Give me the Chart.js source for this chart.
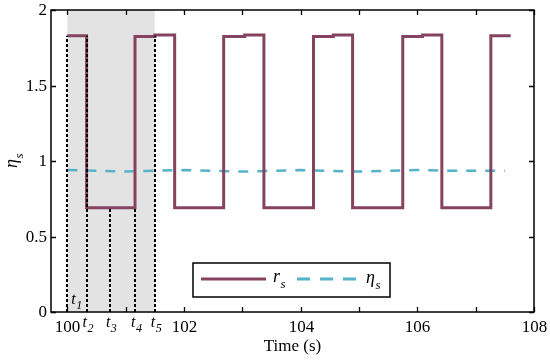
<!DOCTYPE html>
<html>
<head>
<meta charset="utf-8">
<script src="https://cdn.jsdelivr.net/npm/chart.js@4.4.1/dist/chart.umd.min.js"></script>
<style>
  html, body { margin: 0; padding: 0; background: #fff; }
  #wrap { width: 550px; height: 360px; }
</style>
</head>
<body>
<div id="wrap"><canvas id="c" width="550" height="360"></canvas></div>
<script>
// r_s : switching times (s) and level after each switch
const rsTimes = [100, 100.33, 101.16, 101.5, 101.84, 102.68, 103.04, 103.37, 104.22, 104.56, 104.89, 105.75, 106.09, 106.42, 107.26, 107.6];
const rsLevels = [1.83, 0.69, 1.825, 1.835, 0.69, 1.825, 1.835, 0.69, 1.825, 1.835, 0.69, 1.825, 1.835, 0.69, 1.83, 1.83];

// eta_s : sampled values
const etaTimes = [100, 100.5, 101, 101.5, 102, 102.5, 103, 103.5, 104, 104.5, 105, 105.5, 106, 106.5, 107, 107.5];
const etaValues = [0.94, 0.935, 0.93, 0.935, 0.94, 0.935, 0.93, 0.935, 0.94, 0.935, 0.93, 0.935, 0.94, 0.935, 0.935, 0.935];

// marked instants t1..t5 and how high each dotted line goes
const markTimes = [100, 100.33, 100.73, 101.16, 101.5];
const markTops = [1.83, 1.83, 0.69, 0.69, 1.83];
const markNames = ['1', '2', '3', '4', '5'];
const shadeRange = [100, 101.5];

const xTickVals = [100, 101, 102, 103, 104, 105, 106, 107, 108];
const xTickLabels = ['100', '', '102', '', '104', '', '106', '', '108'];
const yTickVals = [0, 0.5, 1, 1.5, 2];
const yTickLabels = ['0', '0.5', '1', '1.5', '2'];

const rsColor = '#86435f';
const etaColor = '#55b2c8';
const serif = '"Liberation Serif", "DejaVu Serif", serif';

// draw an italic symbol with a subscript
const drawSub = (ctx, x, y, main, sub, size) => {
  ctx.save();
  ctx.fillStyle = '#000';
  ctx.textBaseline = 'alphabetic';
  ctx.textAlign = 'left';
  ctx.font = `italic ${size}px ${serif}`;
  ctx.fillText(main, x, y);
  const w = ctx.measureText(main).width;
  ctx.font = `italic ${Math.round(size * 0.72)}px ${serif}`;
  ctx.fillText(sub, x + w + 0.5, y + size * 0.32);
  ctx.restore();
};

const decorPlugin = {
  id: 'decor',
  beforeDatasetsDraw(chart) {
    const { ctx, chartArea: a, scales: { x } } = chart;
    ctx.save();
    ctx.fillStyle = '#e3e3e3';
    const x0 = x.getPixelForValue(shadeRange[0]);
    const x1 = x.getPixelForValue(shadeRange[1]);
    ctx.fillRect(x0, a.top, x1 - x0, a.bottom - a.top);
    ctx.restore();
  },
  afterDatasetsDraw(chart) {
    const { ctx, chartArea: a, scales: { x, y } } = chart;
    ctx.save();
    // dotted markers
    ctx.strokeStyle = '#000';
    ctx.lineWidth = 2;
    ctx.setLineDash([3, 2]);
    markTimes.forEach((t, i) => {
      const px = Math.round(x.getPixelForValue(t));
      ctx.beginPath();
      ctx.moveTo(px, a.bottom);
      ctx.lineTo(px, y.getPixelForValue(markTops[i]));
      ctx.stroke();
    });
    ctx.setLineDash([]);

    // t labels
    markTimes.forEach((t, i) => {
      const px = x.getPixelForValue(t);
      if (i === 0) {
        drawSub(ctx, px + 4, a.bottom - 8, 't', markNames[i], 16);
      } else {
        drawSub(ctx, px - 4, a.bottom + 15, 't', markNames[i], 16);
      }
    });

    // frame
    ctx.strokeStyle = '#000';
    ctx.lineWidth = 1.5;
    ctx.strokeRect(a.left, a.top, a.right - a.left, a.bottom - a.top);

    // inward ticks on all four sides + tick labels
    ctx.lineWidth = 1.3;
    ctx.fillStyle = '#000';
    ctx.font = `17px ${serif}`;
    const tl = 5;
    xTickVals.forEach((v, i) => {
      const px = Math.round(x.getPixelForValue(v)) + 0.5;
      ctx.beginPath();
      ctx.moveTo(px, a.bottom); ctx.lineTo(px, a.bottom - tl);
      ctx.moveTo(px, a.top); ctx.lineTo(px, a.top + tl);
      ctx.stroke();
      ctx.textAlign = 'center';
      ctx.textBaseline = 'alphabetic';
      ctx.fillText(xTickLabels[i], px, a.bottom + 20);
    });
    yTickVals.forEach((v, i) => {
      const py = Math.round(y.getPixelForValue(v)) + 0.5;
      ctx.beginPath();
      ctx.moveTo(a.left, py); ctx.lineTo(a.left + tl, py);
      ctx.moveTo(a.right, py); ctx.lineTo(a.right - tl, py);
      ctx.stroke();
      ctx.textAlign = 'right';
      ctx.textBaseline = 'middle';
      ctx.fillText(yTickLabels[i], a.left - 4, py);
    });

    // axis titles
    ctx.font = `17px ${serif}`;
    ctx.textAlign = 'center';
    ctx.textBaseline = 'alphabetic';
    ctx.fillText('Time (s)', (a.left + a.right) / 2, 351);
    ctx.save();
    ctx.translate(17, 160);
    ctx.rotate(-Math.PI / 2);
    drawSub(ctx, -8, 0, 'η', 's', 18);
    ctx.restore();

    // legend box
    const lx = 193, ly = 263, lw = 197, lh = 34;
    ctx.fillStyle = '#fff';
    ctx.fillRect(lx, ly, lw, lh);
    ctx.strokeStyle = '#000';
    ctx.lineWidth = 1.5;
    ctx.strokeRect(lx, ly, lw, lh);
    const my = ly + lh / 2 - 1;
    ctx.lineWidth = 3;
    ctx.strokeStyle = rsColor;
    ctx.beginPath();
    ctx.moveTo(lx + 8, my); ctx.lineTo(lx + 73, my);
    ctx.stroke();
    drawSub(ctx, lx + 80, my + 3, 'r', 's', 18);
    ctx.strokeStyle = etaColor;
    ctx.setLineDash([13, 10]);
    ctx.beginPath();
    ctx.moveTo(lx + 104, my); ctx.lineTo(lx + 166, my);
    ctx.stroke();
    ctx.setLineDash([]);
    drawSub(ctx, lx + 173, my + 4, 'η', 's', 18);
    ctx.restore();
  },
};

const rsData = rsTimes.map((t, i) => ({ x: t, y: rsLevels[i] }));
const etaData = etaTimes.map((t, i) => ({ x: t, y: etaValues[i] }));

new Chart(document.getElementById('c'), {
  type: 'line',
  data: {
    datasets: [
      {
        label: 'r_s',
        data: rsData,
        stepped: true,
        borderColor: rsColor,
        borderWidth: 3,
        pointRadius: 0,
        fill: false,
      },
      {
        label: 'eta_s',
        data: etaData,
        borderColor: etaColor,
        borderWidth: 2.5,
        borderDash: [10, 9],
        pointRadius: 0,
        tension: 0,
        fill: false,
      },
    ],
  },
  options: {
    responsive: false,
    animation: false,
    devicePixelRatio: 1,
    layout: { padding: { left: 0, top: 10, right: 16, bottom: 0 } },
    plugins: { legend: { display: false }, tooltip: { enabled: false } },
    scales: {
      x: {
        type: 'linear',
        min: 99.72,
        max: 108,
        grid: { display: false, drawTicks: false },
        border: { display: false },
        ticks: { display: false },
        afterFit: (s) => { s.height = 48; },
      },
      y: {
        min: 0,
        max: 2,
        grid: { display: false, drawTicks: false },
        border: { display: false },
        ticks: { display: false },
        afterFit: (s) => { s.width = 51; },
      },
    },
  },
  plugins: [decorPlugin],
});
</script>
</body>
</html>
